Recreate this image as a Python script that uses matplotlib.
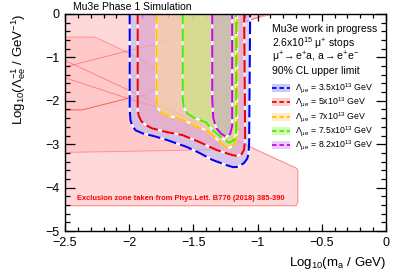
import matplotlib
matplotlib.use('Agg')
import matplotlib.pyplot as plt
from matplotlib.patches import Polygon, Rectangle
from matplotlib.lines import Line2D
from matplotlib.ticker import MultipleLocator

plt.rcParams['font.family'] = ['Liberation Sans', 'DejaVu Sans']
plt.rcParams['mathtext.fontset'] = 'custom'
plt.rcParams['mathtext.rm'] = 'Liberation Sans'
plt.rcParams['mathtext.it'] = 'Liberation Sans'
plt.rcParams['mathtext.bf'] = 'Liberation Sans:bold'

# ---------------- data ----------------
lambda_values = ['3.5', '5', '7', '7.5', '8.2']
line_colors = ['#0000ee', '#ee0000', '#ffc400', '#44ee00', '#cc00ee']
fill_colors = ['#afb5ff', '#f5a2b9', '#ffe096', '#bcee70', '#c3a2d2']
legend_box_colors = ['#c8c8fa', '#ffd2d2', '#ffebc8', '#d7fab4', '#ebcdfa']

blue_x = [-1.996, -1.996, -1.990, -1.975, -1.950, -1.895, -1.80, -1.709, -1.554, -1.453,
          -1.353, -1.244, -1.190, -1.150, -1.105, -1.080, -1.070, -1.066, -1.058]
blue_y = [0.05, -2.21, -2.45, -2.58, -2.68, -2.75, -2.82, -2.90, -3.06, -3.20,
          -3.36, -3.48, -3.53, -3.52, -3.43, -3.33, -3.20, -2.97, 0.05]
red_x = [-1.934, -1.934, -1.925, -1.905, -1.870, -1.826, -1.709, -1.585, -1.453,
         -1.322, -1.198, -1.160, -1.125, -1.105, -1.097, -1.105]
red_y = [0.05, -2.21, -2.35, -2.47, -2.56, -2.63, -2.72, -2.79, -2.95,
         -3.13, -3.25, -3.27, -3.23, -3.13, -2.83, 0.05]
yellow_x = [-1.787, -1.787, -1.775, -1.740, -1.690, -1.640, -1.550, -1.490, -1.400,
            -1.337, -1.275, -1.236, -1.198, -1.167, -1.159, -1.159]
yellow_y = [0.05, -2.00, -2.18, -2.30, -2.36, -2.38, -2.48, -2.58, -2.68,
            -2.83, -3.00, -3.09, -3.06, -2.90, -2.72, 0.05]
green_x = [-1.583, -1.583, -1.575, -1.545, -1.490, -1.400, -1.353, -1.275, -1.221,
           -1.182, -1.167, -1.167]
green_y = [0.05, -1.95, -2.15, -2.30, -2.40, -2.50, -2.67, -2.86, -2.97,
           -2.90, -2.74, 0.05]
magenta_x = [-1.353, -1.353, -1.345, -1.322, -1.283, -1.244, -1.213, -1.198, -1.198]
magenta_y = [0.05, -1.98, -2.40, -2.63, -2.76, -2.83, -2.76, -2.58, 0.05]
contours_x = [blue_x, red_x, yellow_x, green_x, magenta_x]
contours_y = [blue_y, red_y, yellow_y, green_y, magenta_y]

# exclusion regions (Phys.Lett. B776 (2018) 385-390)
excl_base_x = [-2.5, -0.88, -1.06, -1.10, -1.10, -1.06, -0.70, -0.686, -0.686, -0.70, -2.5]
excl_base_y = [0.05, 0.05, -0.14, -0.20, -3.00, -3.06, -3.55, -3.60, -4.33, -4.42, -4.42]
excl_lens_x = [-2.5, -2.267, -2.004, -1.880, -1.818, -1.779, -1.764, -1.779, -1.826,
               -1.895, -2.004, -2.368, -2.5]
excl_lens_y = [-0.53, -0.53, -0.90, -1.08, -1.22, -1.36, -1.50, -1.66, -1.80,
               -1.89, -1.94, -2.21, -2.21]
excl_band_x = [-2.5, -2.368, -2.004, -1.60, -1.30, -1.30, -1.376, -2.5]
excl_band_y = [-2.21, -2.21, -1.94, -2.30, -2.90, -3.12, -3.13, -3.19]
line_a_x = [-2.5, -0.88]
line_a_y = [-1.22, 0.0]
line_b_x = [-2.5, -1.06]
line_b_y = [-1.07, -3.06]
line_c_x = [-2.5, -1.85]
line_c_y = [-1.47, -2.10]

xticks = [-2.5, -2, -1.5, -1, -0.5, 0]
xticklabels = ['\u22122.5', '\u22122', '\u22121.5', '\u22121', '\u22120.5', '0']
yticks = [0, -1, -2, -3, -4, -5]
yticklabels = ['0', '\u22121', '\u22122', '\u22123', '\u22124', '\u22125']

# ---------------- figure ----------------
W, H = 407, 276
fig = plt.figure(figsize=(W / 100, H / 100), dpi=100)
ax = fig.add_axes([65 / W, 1 - 231 / H, (386 - 65) / W, (231 - 14) / H])
ax.set_xlim(-2.5, 0)
ax.set_ylim(-5, 0)


def px(x, y):
    return x / W, 1 - y / H


# exclusion regions
ax.add_patch(Polygon(list(zip(excl_base_x, excl_base_y)), closed=True,
                     facecolor=(1, 0, 0, 0.15), edgecolor=(1, 0, 0, 0.45), lw=0.7, zorder=1))
ax.add_patch(Polygon(list(zip(excl_lens_x, excl_lens_y)), closed=True,
                     facecolor=(1, 0, 0, 0.07), edgecolor=(1, 0, 0, 0.3), lw=0.7, zorder=1.1))
ax.add_patch(Polygon(list(zip(excl_band_x, excl_band_y)), closed=True,
                     facecolor=(1, 0, 0, 0.07), edgecolor=(1, 0, 0, 0.3), lw=0.7, zorder=1.1))
for lx, ly in [(line_a_x, line_a_y), (line_b_x, line_b_y), (line_c_x, line_c_y)]:
    ax.plot(lx, ly, color=(1, 0, 0, 0.35), lw=0.7, zorder=1.2)

# contour fills
for cx, cy, fc in zip(contours_x, contours_y, fill_colors):
    ax.add_patch(Polygon(list(zip(cx, cy)), closed=True, facecolor=fc, alpha=0.5,
                         edgecolor='none', zorder=2))
# contour lines
for cx, cy, lc in zip(contours_x, contours_y, line_colors):
    ax.plot(cx, cy, color='white', lw=1.5, zorder=3, solid_capstyle='butt')
    ax.plot(cx, cy, color=lc, lw=1.5, ls=(0, (6.0, 2.0)), zorder=3.1)

ax.text(px(77, 199)[0], px(77, 199)[1], 'Exclusion zone taken from Phys.Lett. B776 (2018) 385-390',
        transform=fig.transFigure, color='#ff0000', fontsize=5.4, fontweight='bold',
        va='center', ha='left', zorder=5)

# axes styling
ax.set_xticks(xticks)
ax.set_xticklabels(xticklabels)
ax.set_yticks(yticks)
ax.set_yticklabels(yticklabels)
ax.xaxis.set_minor_locator(MultipleLocator(0.1))
ax.yaxis.set_minor_locator(MultipleLocator(0.2))
ax.tick_params(which='both', direction='in', top=True, right=True, width=0.9,
               labelsize=9, zorder=6)
ax.xaxis.set_tick_params(which='major', length=5.0, pad=4.5)
ax.xaxis.set_tick_params(which='minor', length=2.6)
ax.yaxis.set_tick_params(which='major', length=7.0, pad=4.0)
ax.yaxis.set_tick_params(which='minor', length=3.5)
for s in ax.spines.values():
    s.set_linewidth(1.0)
    s.set_zorder(6)

ax.set_xlabel(r'Log$_{10}$(m$_{a}$ / GeV)', fontsize=9.5, loc='right')
ax.xaxis.set_label_coords(1.0, -0.11)
ax.set_ylabel(r'Log$_{10}$($\Lambda_{ee}^{-1}$ / GeV$^{-1}$)', fontsize=9.5, loc='top')
ax.yaxis.set_label_coords(-0.115, 1.0)

fig.text(*px(73, 7), 'Mu3e Phase 1 Simulation', fontsize=7.5, ha='left', va='center')

# header text
header = ['Mu3e work in progress', r'2.6x10$^{15}$ $\mu^{+}$ stops',
          r'$\mu^{+}\!\rightarrow$e$^{+}$a, a$\rightarrow$e$^{+}$e$^{-}$', '90% CL upper limit']
for i, t in enumerate(header):
    fig.text(*px(272, 29 + 14 * i), t, fontsize=7.5, ha='left', va='center', zorder=7)

# legend
for i, (lv, lc, bc) in enumerate(zip(lambda_values, line_colors, legend_box_colors)):
    yc = 88 + 14.3 * i
    fig.patches.append(Rectangle(px(272, yc + 4), 18 / W, 8 / H, transform=fig.transFigure,
                                 facecolor=bc, edgecolor='none', zorder=7))
    fig.lines.append(Line2D([272 / W, 290 / W], [1 - yc / H, 1 - yc / H],
                            transform=fig.transFigure, color=lc, lw=1.3,
                            ls=(0, (2.5, 1.6)), zorder=8))
    fig.text(*px(295, yc), r'$\Lambda_{\mu e}$ = ' + lv + r'x10$^{13}$ GeV',
             fontsize=6.3, ha='left', va='center', zorder=8)

fig.savefig('out.png', dpi=100)
